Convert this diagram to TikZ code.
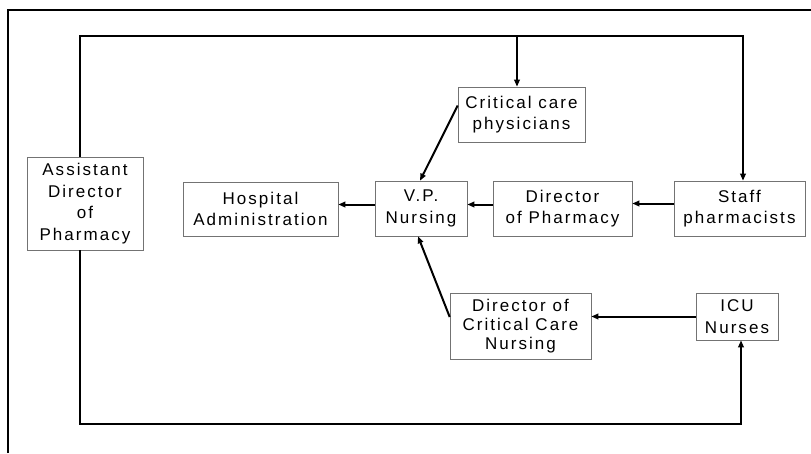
\documentclass[tikz,border=0pt]{standalone}
\usepackage{fontspec}
\setmainfont{Liberation Sans}[LetterSpace=12]
\usetikzlibrary{arrows.meta,calc}
\begin{document}
\begin{tikzpicture}[x=1pt,y=-1pt,
  orgbox/.style={draw=black!55,line width=0.6pt,align=center,inner sep=0pt,
    font=\fontsize{17}{21.5}\selectfont},
  link/.style={line width=2pt,black},
  arr/.style={link,-{Triangle[length=7pt,width=5.5pt]}},
  frameline/.style={line width=1.6pt,black}]
% canvas
\useasboundingbox (0,0) rectangle (811,453);
\draw[frameline] (8,453) -- (8,10) -- (811,10);

% boxes
\node[orgbox,minimum width=116pt,minimum height=93pt] (A) at (85,203.5)
  {Assistant\\Director\\of\\Pharmacy};
\node[orgbox,minimum width=155pt,minimum height=54pt] (HA) at (260.5,209)
  {Hospital\\Administration};
\node[orgbox,minimum width=92pt,minimum height=55pt] (VP) at (421,208.5)
  {V.P.\\Nursing};
\node[orgbox,minimum width=127pt,minimum height=55pt] (CCP) at (521.5,114.5)
  {Critical care\\physicians};
\node[orgbox,minimum width=139pt,minimum height=55pt] (DP) at (562.5,208.5)
  {Director\\of Pharmacy};
\node[orgbox,minimum width=131pt,minimum height=55pt] (SP) at (739.5,208.5)
  {Staff\\pharmacists};
\node[orgbox,minimum width=141pt,minimum height=66pt,
  font=\fontsize{17}{19}\selectfont] (DC) at (520.5,326)
  {Director of\\Critical Care\\Nursing};
\node[orgbox,minimum width=82pt,minimum height=47pt] (ICU) at (737,316.5)
  {ICU\\Nurses};

% junction points of the loop lines
\coordinate (tl) at (80,36);
\coordinate (tr) at (743,36);
\coordinate (tj) at (517,36);
\coordinate (bl) at (80,424);
\coordinate (br) at (741,424);

% loop from the assistant director over the top
\draw[arr] (A.north -| tl) -- (tl) -- (tr) -- (tr |- SP.north);
\draw[arr] (tj) -- (tj |- CCP.north);
% loop from the assistant director along the bottom
\draw[arr] (A.south -| bl) -- (bl) -- (br) -- (br |- ICU.south);

% reporting lines
\draw[arr] ([yshift=9pt]CCP.west) -- ([xshift=-1pt]VP.north);
\draw[arr] ([yshift=9pt]DC.west) -- ([xshift=-3pt]VP.south);
\draw[arr] (ICU.west) -- (ICU.west -| DC.east);
\draw[arr] ([yshift=5pt]SP.west) -- ([yshift=5pt]SP.west -| DP.east);
\draw[arr] ([yshift=4pt]DP.west) -- ([yshift=4pt]DP.west -| VP.east);
\draw[arr] ([yshift=4pt]VP.west) -- ([yshift=4pt]VP.west -| HA.east);
\end{tikzpicture}
\end{document}
